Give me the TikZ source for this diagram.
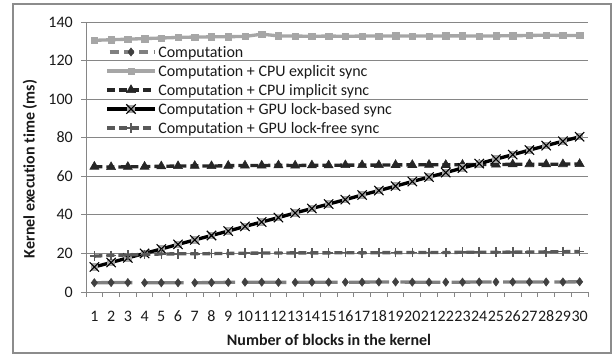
\documentclass[tikz,border=0pt]{standalone}
\usepackage{fontspec}
\setmainfont{Carlito}[Ligatures=NoCommon]
\usetikzlibrary{plotmarks}
\definecolor{gridc}{HTML}{868686}
\definecolor{framec}{HTML}{8C8C8C}
\definecolor{compc}{HTML}{808080}
\definecolor{compm}{HTML}{404040}
\definecolor{explc}{HTML}{A6A6A6}
\definecolor{implc}{HTML}{262626}
\definecolor{freec}{HTML}{595959}
\definecolor{xfill}{HTML}{A6A6A6}
\definecolor{txtc}{HTML}{1A1A1A}
\pgfdeclareplotmark{xbox}{%
  \pgfpathrectangle{\pgfqpoint{-0.8\pgfplotmarksize}{-0.8\pgfplotmarksize}}{\pgfqpoint{1.6\pgfplotmarksize}{1.6\pgfplotmarksize}}%
  \pgfsetfillcolor{xfill}\pgfusepath{fill}%
  \pgfpathmoveto{\pgfqpoint{-\pgfplotmarksize}{-\pgfplotmarksize}}%
  \pgfpathlineto{\pgfqpoint{\pgfplotmarksize}{\pgfplotmarksize}}%
  \pgfpathmoveto{\pgfqpoint{-\pgfplotmarksize}{\pgfplotmarksize}}%
  \pgfpathlineto{\pgfqpoint{\pgfplotmarksize}{-\pgfplotmarksize}}%
  \pgfsetstrokecolor{black}\pgfusepath{stroke}}
\tikzset{
  gridline/.style={draw=gridc, line width=0.75pt},
  lbl/.style={text=txtc, inner sep=0pt, font=\fontsize{12}{14}\selectfont},
  title/.style={lbl, font=\fontsize{12}{14}\selectfont\bfseries},
  compstyle/.style={draw=compc, line width=2.5pt, dash pattern=on 30pt off 8.5pt, dash phase=1.5pt,
     mark=diamond*, mark size=3.1pt, mark options={solid, fill=compm, draw=compm, line width=0.4pt}},
  explstyle/.style={draw=explc, line width=2.5pt,
     mark=square*, mark size=2.4pt, mark options={solid, fill=explc, draw=explc, line width=0.4pt}},
  implstyle/.style={draw=implc, line width=2.5pt, dash pattern=on 6pt off 3pt,
     mark=triangle*, mark size=3.9pt, mark options={solid, fill=implc, draw=implc, line width=0.4pt}},
  lockstyle/.style={draw=black, line width=2.5pt,
     mark=xbox, mark size=3.5pt, mark options={solid, line width=0.8pt}},
  freestyle/.style={draw=freec, line width=2.5pt, dash pattern=on 6pt off 3pt,
     mark=+, mark size=3.6pt, mark options={solid, draw=freec, line width=1.2pt}},
}
\begin{document}
\begin{tikzpicture}[x=0.75pt, y=-0.75pt]
\useasboundingbox (0,0) rectangle (615,358);
\draw[framec, line width=1.2pt] (13,4) rectangle (611,353);
% gridlines and y ticks
\foreach \v in {20,40,...,140} {
  \draw[gridline] (81,{292-1.92857*\v}) -- (588,{292-1.92857*\v});
}
\foreach \v/\n in {0/y0,20/y20,40/y40,60/y60,80/y80,100/y100,120/y120,140/y140} {
  \node[lbl, anchor=base east] (\n) at (73,{292-1.92857*\v+5}) {\v};
}
% axes
\draw[gridline] (86,22) -- (86,292);
\draw[gridline] (81,292) -- (588,292);
\foreach \k in {0,...,30} {
  \draw[gridline] ({86+16.7333*\k},292) -- ({86+16.7333*\k},297);
}
\foreach \k in {1,...,30} {
  \node[lbl, anchor=base] (xt\k) at ({86+16.7333*(\k-0.5)},321) {\k};
}
% axis titles
\node[title, rotate=90] (ytitle) at (30,169) {Kernel execution time (ms)};
\node[title] (xtitle) at (329,340) {Number of blocks in the kernel};
% data
\begin{scope}[shift={(77.6333,292)}, x=12.55pt, y=1.446428pt]
\draw[compstyle] plot coordinates {(1,4.8) (2,4.9) (3,4.9) (4,4.8) (5,4.8) (6,4.8) (7,4.8) (8,4.9) (9,5.0) (10,5.1) (11,5.1) (12,5.0) (13,5.0) (14,5.1) (15,5.1) (16,5.1) (17,5.1) (18,5.2) (19,5.2) (20,5.1) (21,5.1) (22,5.1) (23,5.1) (24,5.2) (25,5.2) (26,5.2) (27,5.2) (28,5.2) (29,5.2) (30,5.3)};
\draw[explstyle] plot coordinates {(1,130.5) (2,130.8) (3,131.1) (4,131.4) (5,131.7) (6,132.0) (7,132.2) (8,132.3) (9,132.4) (10,132.5) (11,133.7) (12,132.8) (13,132.7) (14,132.6) (15,132.7) (16,132.6) (17,132.7) (18,132.7) (19,132.8) (20,132.7) (21,132.7) (22,132.8) (23,132.8) (24,132.7) (25,132.8) (26,132.9) (27,133.0) (28,133.2) (29,133.0) (30,133.0)};
\draw[implstyle] plot coordinates {(1,65.0) (2,64.8) (3,64.9) (4,65.0) (5,65.2) (6,65.3) (7,65.4) (8,65.3) (9,65.5) (10,65.6) (11,65.6) (12,65.7) (13,65.6) (14,65.7) (15,65.7) (16,65.8) (17,65.8) (18,65.8) (19,65.9) (20,65.9) (21,66.0) (22,65.9) (23,66.0) (24,66.1) (25,66.1) (26,66.2) (27,66.3) (28,66.2) (29,66.3) (30,66.4)};
\draw[lockstyle] plot coordinates {(1,13.0) (2,15.3) (3,17.7) (4,20.0) (5,22.3) (6,24.7) (7,27.0) (8,29.3) (9,31.6) (10,34.0) (11,36.3) (12,38.6) (13,41.0) (14,43.3) (15,45.6) (16,47.9) (17,50.3) (18,52.6) (19,54.9) (20,57.3) (21,59.6) (22,61.9) (23,64.3) (24,66.6) (25,68.9) (26,71.2) (27,73.6) (28,75.9) (29,78.2) (30,80.5)};
\draw[freestyle] plot coordinates {(1,18.6) (2,19.0) (3,19.2) (4,19.5) (5,19.7) (6,19.8) (7,19.8) (8,19.9) (9,20.0) (10,20.1) (11,20.2) (12,20.2) (13,20.3) (14,20.3) (15,20.3) (16,20.4) (17,20.3) (18,20.4) (19,20.4) (20,20.5) (21,20.5) (22,20.5) (23,20.6) (24,20.6) (25,20.6) (26,20.7) (27,20.7) (28,20.8) (29,20.9) (30,21.0)};
\end{scope}
% legend
\coordinate (la1) at (107,52); \coordinate (lb1) at (155,52); \coordinate (lm1) at (131,52);
\coordinate (la2) at (107,71); \coordinate (lb2) at (155,71); \coordinate (lm2) at (131,71);
\coordinate (la3) at (107,90); \coordinate (lb3) at (155,90); \coordinate (lm3) at (131,90);
\coordinate (la4) at (107,109); \coordinate (lb4) at (155,109); \coordinate (lm4) at (131,109);
\coordinate (la5) at (107,128); \coordinate (lb5) at (155,128); \coordinate (lm5) at (131,128);
\draw[compstyle, dash pattern=on 7pt off 4pt, dash phase=-2pt] (la1) -- (lb1);
\path[compstyle] plot coordinates {(lm1)};
\draw[explstyle] (la2) -- (lb2);
\path[explstyle] plot coordinates {(lm2)};
\draw[implstyle] (la3) -- (lb3);
\path[implstyle] plot coordinates {(lm3)};
\draw[lockstyle] (la4) -- (lb4);
\path[lockstyle] plot coordinates {(lm4)};
\draw[freestyle] (la5) -- (lb5);
\path[freestyle] plot coordinates {(lm5)};
\node[lbl, anchor=base west] (lt1) at (158,57) {Computation};
\node[lbl, anchor=base west] (lt2) at (158,76) {Computation + CPU explicit sync};
\node[lbl, anchor=base west] (lt3) at (158,95) {Computation + CPU implicit sync};
\node[lbl, anchor=base west] (lt4) at (158,114) {Computation + GPU lock-based sync};
\node[lbl, anchor=base west] (lt5) at (158,133) {Computation + GPU lock-free sync};
\end{tikzpicture}
\end{document}
